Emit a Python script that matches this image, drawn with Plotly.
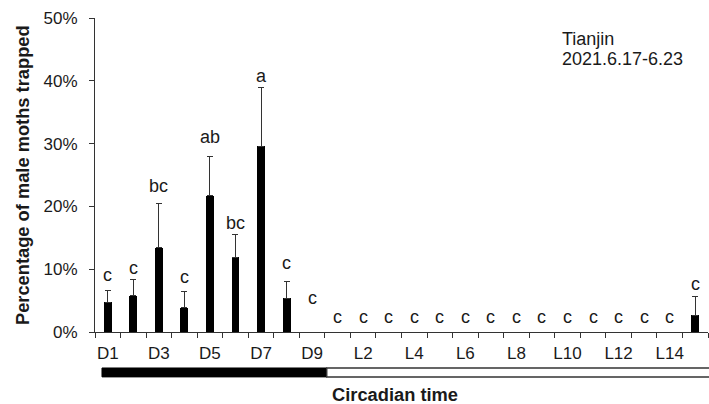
import plotly.graph_objects as go
import math

# ---- data ----
categories = [f"D{i}" for i in range(1, 10)] + [f"L{i}" for i in range(1, 16)]
tick_labels = ["D1", "", "D3", "", "D5", "", "D7", "", "D9", "",
               "L2", "", "L4", "", "L6", "", "L8", "", "L10", "", "L12", "", "L14", ""]
mean_pct = [4.7, 5.8, 13.4, 3.9, 21.7, 11.9, 29.6, 5.4, 0.0] + [0.0] * 14 + [2.7]
err_pct = [1.9, 2.5, 7.0, 2.6, 6.3, 3.6, 9.4, 2.6, math.nan] + [math.nan] * 14 + [2.9]
letters = ["c", "c", "bc", "c", "ab", "bc", "a", "c", "c"] + ["c"] * 14 + ["c"]
letter_y = [9.1, 10.2, 23.2, 8.8, 31.1, 17.3, 40.7, 11.0, 5.4] + [2.4] * 14 + [7.7]
y_ticks = [0, 10, 20, 30, 40, 50]
site = "Tianjin"
period = "2021.6.17-6.23"

FONT = "Liberation Sans, Arial, sans-serif"
TXT = "#1a1a1a"
AX = "#333333"

fig = go.Figure()
fig.add_trace(go.Bar(
    x=categories, y=mean_pct, width=0.31,
    marker=dict(color="black", line=dict(width=0)),
    error_y=dict(type="data", array=err_pct, arrayminus=[0] * len(err_pct),
                 symmetric=False, color=AX, thickness=1, width=3),
))

annotations = []
for c, lab, ly in zip(categories, letters, letter_y):
    annotations.append(dict(x=c, y=ly, xref="x", yref="y", text=lab, showarrow=False,
                            font=dict(family=FONT, size=18, color=TXT),
                            xanchor="center", yanchor="middle"))

annotations.append(dict(x=-0.119, y=0.5, xref="paper", yref="paper",
                        text="<b>Percentage of male moths trapped</b>", textangle=-90,
                        showarrow=False, font=dict(family=FONT, size=18.3, color=TXT),
                        xanchor="center", yanchor="middle"))
annotations.append(dict(x=0.489, y=-0.2006, xref="paper", yref="paper",
                        text="<b>Circadian time</b>", showarrow=False,
                        font=dict(family=FONT, size=18.3, color=TXT),
                        xanchor="center", yanchor="middle"))
annotations.append(dict(x=0.7586, y=0.934, xref="paper", yref="paper",
                        text=site, showarrow=False, align="left",
                        font=dict(family=FONT, size=18, color=TXT),
                        xanchor="left", yanchor="middle"))
annotations.append(dict(x=0.7586, y=0.870, xref="paper", yref="paper",
                        text=period, showarrow=False, align="left",
                        font=dict(family=FONT, size=18, color=TXT),
                        xanchor="left", yanchor="middle"))

shapes = [
    dict(type="rect", xref="paper", yref="paper", x0=0.0114, x1=0.378, y0=-0.143, y1=-0.1146,
         fillcolor="black", line=dict(color="black", width=1)),
    dict(type="rect", xref="paper", yref="paper", x0=0.378, x1=1.01, y0=-0.143, y1=-0.1146,
         fillcolor="white", line=dict(color=AX, width=1.5)),
]

fig.update_layout(
    width=709, height=404,
    margin=dict(l=95, r=1, t=18, b=72),
    paper_bgcolor="white", plot_bgcolor="white",
    showlegend=False,
    bargap=0,
    font=dict(family=FONT, size=17, color=TXT),
    annotations=annotations,
    shapes=shapes,
    xaxis=dict(type="category", range=[-0.5, 23.5], tickmode="array",
               tickvals=categories, ticktext=tick_labels, tickson="boundaries",
               ticks="outside", ticklen=5, tickcolor=AX, tickwidth=1,
               showline=True, linecolor=AX, linewidth=1, showgrid=False,
               ticklabelstandoff=6,
               tickfont=dict(family=FONT, size=17, color=TXT), tickangle=0),
    yaxis=dict(range=[0, 50], tickvals=y_ticks, ticktext=[f"{v}%" for v in y_ticks],
               ticks="outside", ticklen=5, tickcolor=AX, tickwidth=1,
               showline=True, linecolor=AX, linewidth=1, showgrid=False, zeroline=False,
               ticklabelstandoff=8,
               tickfont=dict(family=FONT, size=17, color=TXT)),
)

fig.write_html("out.html")
